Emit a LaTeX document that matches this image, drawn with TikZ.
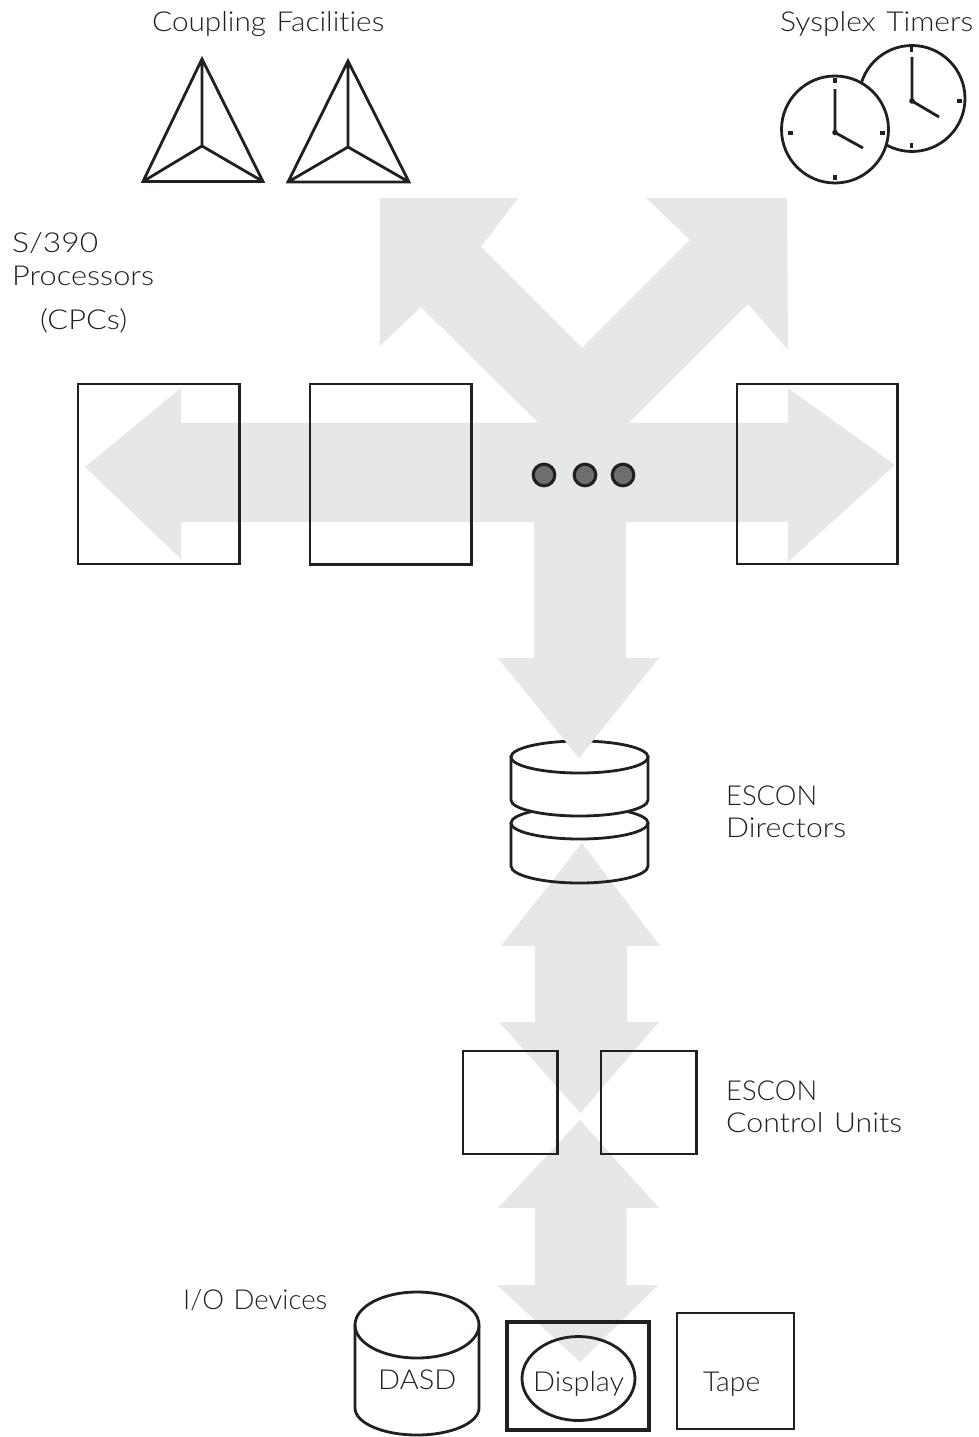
\documentclass[tikz,border=0pt]{standalone}
\usepackage{graphicx}
\usepackage{fontspec}
\setmainfont{Lato Light}[Ligatures=CommonOff]
\definecolor{flow}{HTML}{E6E7E8}
\definecolor{dotgray}{HTML}{6D6E71}
\definecolor{ink}{HTML}{231F20}
\newcommand{\wlab}[2]{\resizebox{#1pt}{\height}{#2}}
\tikzset{
  flowshape/.style={fill=flow,draw=none},
  outline/.style={draw=ink,line width=2.8pt,line join=miter},
  thick outline/.style={draw=ink,line width=3.1pt},
  hand/.style={draw=ink,line width=2.8pt},
  tick/.style={draw=ink,line width=3.2pt},
  lab/.style={anchor=base west,inner sep=0pt,text=ink,font=\fontsize{27.5}{27.5}\selectfont}
}
\begin{document}
\begin{tikzpicture}[x=1pt,y=-1pt]
\useasboundingbox (0,0) rectangle (979,1437);
% lower arrows
\fill[flowshape] (580,1120) -- (659,1208) -- (626.5,1208) -- (626.5,1285) -- (658,1285) -- (580,1362) -- (497,1285) -- (535,1285) -- (535,1208) -- (498,1208) -- cycle;
\fill[flowshape] (582,843) -- (660,946) -- (627,946) -- (627,1022) -- (659,1022) -- (580.5,1113) -- (499,1022) -- (535,1022) -- (535,946) -- (501,946) -- cycle;
% director
\draw[outline] (511,823) -- (511,866) arc[start angle=180,end angle=0,x radius=68.5,y radius=17] -- (648,823);
\draw[outline] (579.5,823) circle[x radius=68.5,y radius=16];
\draw[outline,fill=white] (511,757) -- (511,800) arc[start angle=180,end angle=0,x radius=68.5,y radius=16] -- (648,757) -- cycle;
\draw[outline,fill=white] (579.5,757) circle[x radius=68.5,y radius=16];
% main flow
\fill[flowshape] (85,467) -- (181,388) -- (181,422.5) -- (538,422.5) -- (421,307) -- (380,346) -- (380,198) -- (518,198) -- (481,247) -- (582,348) -- (690,240) -- (646,198) -- (787,198) -- (788,350) -- (748,304) -- (629,422.5) -- (788,422.5) -- (788,388) -- (895,465) -- (788,562) -- (788,522) -- (626,522) -- (626,658) -- (659,658) -- (579,758) -- (498,658) -- (534,658) -- (534,522) -- (181,522) -- (181,559) -- cycle;
% processors
\draw[outline] (78,384) rectangle (239.5,564);
\draw[outline] (310,384) rectangle (471.5,564.5);
\draw[outline] (737,384) rectangle (897.5,564);
\draw[thick outline,fill=dotgray] (544,475) circle[radius=10.8];
\draw[thick outline,fill=dotgray] (585,475) circle[radius=10.8];
\draw[thick outline,fill=dotgray] (623,475) circle[radius=10.8];
% control units
\draw[outline] (463,1051) rectangle (557.5,1154);
\draw[outline] (601,1051) rectangle (696.5,1154);
% devices
\draw[outline] (355,1325) -- (355,1408) arc[start angle=180,end angle=0,x radius=62,y radius=27] -- (479,1325);
\draw[outline] (417,1325) circle[x radius=62,y radius=33];
\draw[thick outline] (507,1322) rectangle (649,1430);
\draw[outline] (578.5,1378.5) circle[x radius=56.5,y radius=42];
\draw[outline] (677,1313) rectangle (794,1429);
% coupling facilities
\draw[outline] (202,59) -- (263,181.5) -- (143,181.5) -- cycle (202,59) -- (202,146) (143,181.5) -- (202,146) -- (263,181.5);
\draw[outline] (348,61) -- (409,182) -- (288,182) -- cycle (348,61) -- (348,147) (288,182) -- (348,147) -- (409,182);
% timers
\draw[outline,fill=white] (912,98.5) circle[radius=53];
\draw[hand] (912,57) -- (912,101) -- (939,117);
\fill[ink] (912,101) circle[radius=2.8];
\draw[tick] (911.5,47) -- (911.5,52) (957,101) -- (962,101) (911.5,143) -- (911.5,148);
\draw[outline,fill=white] (835,129.5) circle[radius=53.5];
\draw[hand] (835,89) -- (835,132.5) -- (863,148);
\fill[ink] (835,132.5) circle[radius=2.8];
\draw[tick] (835,78) -- (835,83) (788,133) -- (792.5,133) (880,133) -- (885,133) (835,175) -- (835,180);
% labels
\node[lab] (coupling) at (152,32) {\wlab{232}{Coupling\hspace{.35em}Facilities}};
\node[lab] (timers) at (780,32) {\wlab{193}{Sysplex\hspace{.35em}Timers}};
\node[lab] (s390) at (12,252) {\wlab{86}{S/390}};
\node[lab] (proc) at (12,285) {\wlab{142}{Processors}};
\node[lab] (cpcs) at (40,329) {\wlab{87}{(CPCs)}};
\node[lab] (esc1) at (726,805) {\wlab{91}{ESCON}};
\node[lab] (dir) at (726,837) {\wlab{120}{Directors}};
\node[lab] (esc2) at (726,1100) {\wlab{91}{ESCON}};
\node[lab] (cu) at (726,1132) {\wlab{176}{Control\hspace{.35em}Units}};
\node[lab] (io) at (183,1309) {\wlab{144}{I/O\hspace{.35em}Devices}};
\node[lab] (dasd) at (378,1389) {\wlab{78}{DASD}};
\node[lab] (disp) at (533,1391) {\wlab{91}{Display}};
\node[lab] (tape) at (703,1391) {\wlab{57}{Tape}};
\end{tikzpicture}
\end{document}
